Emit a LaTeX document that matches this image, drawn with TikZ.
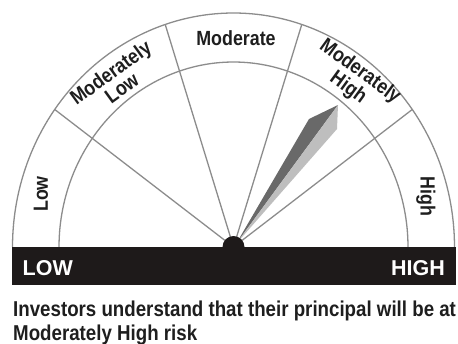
\documentclass[tikz,border=0pt]{standalone}
\usepackage{fontspec}
\setmainfont{Liberation Sans}
\newfontfamily\narrowfont[FakeStretch=0.87]{Liberation Sans}
\definecolor{linegray}{RGB}{140,140,140}
\definecolor{barblack}{RGB}{30,26,26}
\definecolor{needledark}{RGB}{105,105,105}
\definecolor{needlelight}{RGB}{190,190,190}
\definecolor{textdark}{RGB}{30,30,30}
\tikzset{
  gaugeline/.style={draw=linegray, line width=1.3pt},
  bandlabel/.style={inner sep=0pt, align=center, text=textdark,
    font=\narrowfont\bfseries\fontsize{20.5}{19}\selectfont},
  barlabel/.style={inner sep=0pt, text=white,
    font=\bfseries\fontsize{21.5}{24}\selectfont},
  captionline/.style={inner sep=0pt, anchor=base west, text=textdark,
    font=\narrowfont\bfseries\fontsize{21.5}{25}\selectfont}
}
\begin{document}
\begin{tikzpicture}[x=1pt,y=-1pt]
\useasboundingbox[fill=white] (0,0) rectangle (458,343);
% geometry
\coordinate (C) at (233.5,247);
\foreach \a/\n in {36/o1,72/o2,108/o3,144/o4}{
  \coordinate (\n) at ({233.5+221*cos(\a)},{247-234*sin(\a)});
}
% arcs
\draw[gaugeline] plot[domain=0:180, samples=121] ({233.5+221*cos(\x)},{247-234*sin(\x)});
\draw[gaugeline] plot[domain=0:180, samples=121] ({233.5+174.5*cos(\x)},{247-185*sin(\x)});
% radial lines
\foreach \n in {o1,o2,o3,o4}{ \draw[gaugeline] (C) -- (\n); }
% needle
\coordinate (tip) at (338,105);
\coordinate (lsh) at (309,119);
\coordinate (rsh) at (337,129);
\coordinate (nbase) at (236,244);
\fill[needledark] (tip) -- (lsh) -- (nbase) -- cycle;
\fill[needlelight] (tip) -- (rsh) -- (nbase) -- cycle;
% hub and bar
\fill[barblack] (C) circle[radius=11];
\fill[barblack] (12,247) rectangle (455.5,285);
% band labels
\node[bandlabel, rotate=90] (low) at (41,194) {Low};
\node[bandlabel, rotate=36] (modlow) at (116,80) {Moderately\\Low};
\node[bandlabel] (mod) at (236,38) {Moderate};
\node[bandlabel, rotate=-36] (modhigh) at (354,80) {Moderately\\High};
\node[bandlabel, rotate=-90] (high) at (426,196.5) {High};
% bar labels
\node[barlabel, anchor=base west] (LOW) at (22.5,275) {LOW};
\node[barlabel, anchor=base east] (HIGH) at (445,275) {HIGH};
% caption
\node[captionline] (cap1) at (13,316) {Investors understand that their principal will be at};
\node[captionline] (cap2) at (13,340.5) {Moderately High risk};
\end{tikzpicture}
\end{document}
